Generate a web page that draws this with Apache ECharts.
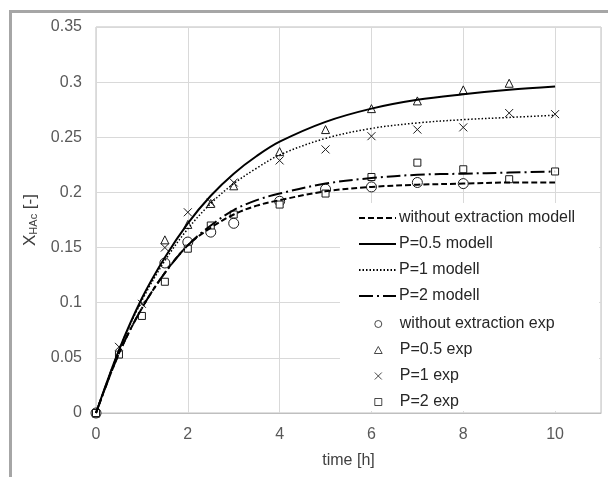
<!DOCTYPE html>
<html>
<head>
<meta charset="utf-8">
<script src="https://cdn.jsdelivr.net/npm/echarts@6/dist/echarts.min.js"></script>
<style>
  html, body { margin: 0; padding: 0; background: #fff; }
  #chart { width: 608px; height: 477px; }
</style>
</head>
<body>
<div id="chart"></div>
<script>
// Model curves (time in h, conversion X_HAc)
const modelTime = [0, 0.5, 1, 1.5, 2, 2.5, 3, 3.5, 4, 5, 6, 7, 8, 9, 10];
const modelNoExtraction = [0, 0.054, 0.095, 0.127, 0.152, 0.168, 0.180, 0.188, 0.193, 0.201, 0.205, 0.207, 0.208, 0.209, 0.209];
const modelP05 = [0, 0.057, 0.104, 0.141, 0.172, 0.197, 0.217, 0.233, 0.246, 0.264, 0.276, 0.284, 0.289, 0.293, 0.296];
const modelP1 = [0, 0.057, 0.102, 0.138, 0.167, 0.190, 0.208, 0.222, 0.234, 0.249, 0.258, 0.263, 0.266, 0.268, 0.270];
const modelP2 = [0, 0.054, 0.095, 0.127, 0.152, 0.170, 0.184, 0.193, 0.199, 0.208, 0.213, 0.216, 0.217, 0.218, 0.219];

// Experimental points
const expNoExtractionTime = [0, 1.5, 2, 2.5, 3, 4, 5, 6, 7, 8];
const expNoExtraction = [0, 0.136, 0.155, 0.164, 0.172, 0.192, 0.203, 0.205, 0.209, 0.208];
const expP05Time = [0, 1.5, 2, 2.5, 3, 4, 5, 6, 7, 8, 9];
const expP05 = [0, 0.157, 0.171, 0.190, 0.206, 0.237, 0.257, 0.276, 0.283, 0.293, 0.299];
const expP1Time = [0, 0.5, 1, 1.5, 2, 2.5, 3, 4, 5, 6, 7, 8, 9, 10];
const expP1 = [0, 0.060, 0.099, 0.150, 0.182, 0.191, 0.209, 0.229, 0.239, 0.251, 0.257, 0.259, 0.272, 0.271];
const expP2Time = [0, 0.5, 1, 1.5, 2, 2.5, 3, 4, 5, 6, 7, 8, 9, 10];
const expP2 = [0, 0.053, 0.088, 0.119, 0.149, 0.170, 0.180, 0.189, 0.199, 0.214, 0.227, 0.221, 0.212, 0.219];

const lineNames = ['without extraction modell', 'P=0.5 modell', 'P=1 modell', 'P=2 modell'];
const expNames = ['without extraction exp', 'P=0.5 exp', 'P=1 exp', 'P=2 exp'];

const zip = (xs, ys) => xs.map((x, i) => [x, ys[i]]);

// Marker shapes as paths so they keep their aspect in the legend
const circlePath = 'path://M10,5A5,5,0,1,1,0,5A5,5,0,1,1,10,5Z';
const trianglePath = 'path://M5,0L10,9L0,9Z';
const crossPath = 'path://M0,0L10,10M10,0L0,10';
const squarePath = 'path://M0,0L10,0L10,10L0,10Z';
const ink = '#1a1a1a';

function lineSeries(name, values, type, width) {
  return {
    name, type: 'line', data: zip(modelTime, values),
    smooth: 0.35, symbol: 'none', z: 3,
    lineStyle: { color: '#000', width: width, type: type },
    itemStyle: { color: '#000' }
  };
}
function scatterSeries(name, xs, ys, symbol, size, fill) {
  return {
    name, type: 'scatter', data: zip(xs, ys), symbol, symbolSize: size, z: 2,
    itemStyle: { color: fill, borderColor: ink, borderWidth: 1, opacity: 1 }
  };
}

const chart = echarts.init(document.getElementById('chart'));
chart.setOption({
  animation: false,
  textStyle: { fontFamily: 'Liberation Sans, Arial, sans-serif' },
  graphic: [
    { type: 'rect', z: 1, shape: { x: 340, y: 203, width: 259, height: 208 }, style: { fill: '#fff' } },
    { type: 'rect', z: 1, shape: { x: 9, y: 10, width: 599, height: 3 }, style: { fill: '#a6a6a6' } },
    { type: 'rect', z: 1, shape: { x: 9, y: 10, width: 3, height: 467 }, style: { fill: '#a6a6a6' } }
  ],
  grid: { left: 96, top: 27, right: 7, bottom: 64, show: true, borderColor: '#bfbfbf', borderWidth: 1 },
  xAxis: {
    type: 'value', min: 0, max: 11, interval: 2,
    name: 'time [h]', nameLocation: 'middle', nameGap: 40,
    nameTextStyle: { fontSize: 16, color: '#404040' },
    axisLine: { show: true, lineStyle: { color: '#bfbfbf' } },
    axisTick: { show: false },
    axisLabel: { fontSize: 16, color: '#595959', margin: 14, formatter: v => (v > 10.5 ? '' : String(v)) },
    splitLine: { lineStyle: { color: '#d9d9d9' } }
  },
  yAxis: {
    type: 'value', min: 0, max: 0.35, interval: 0.05,
    name: '{x|X}{sub|HAc}{x| [-]}', nameLocation: 'middle', nameGap: 56,
    nameTextStyle: {
      fontSize: 16, color: '#404040',
      rich: { x: { fontSize: 17, color: '#404040' }, sub: { fontSize: 11, color: '#404040', verticalAlign: 'bottom', padding: [8, 0, 0, 0] } }
    },
    axisLine: { show: false },
    axisTick: { show: false },
    axisLabel: { fontSize: 16, color: '#595959', margin: 14 },
    splitLine: { lineStyle: { color: '#d9d9d9' } }
  },
  legend: [
    {
      data: lineNames, orient: 'vertical', left: 358, top: 210,
      itemWidth: 37, itemHeight: 14, itemGap: 10, padding: 0,
      itemStyle: { opacity: 0, color: 'rgba(0,0,0,0)', borderWidth: 0 },
      textStyle: { fontSize: 16, color: '#262626', padding: [0, 0, 0, -2] }
    },
    {
      data: expNames, orient: 'vertical', left: 374, top: 316,
      itemWidth: 37, itemHeight: 7, itemGap: 10, padding: 0, symbolKeepAspect: true,
      itemStyle: { borderWidth: 0.8 },
      textStyle: { fontSize: 16, color: '#262626', padding: [0, 0, 0, -2] }
    }
  ],
  series: [
    lineSeries(lineNames[0], modelNoExtraction, [6, 3], 2),
    lineSeries(lineNames[1], modelP05, 'solid', 2),
    lineSeries(lineNames[2], modelP1, [1.5, 2], 1.5),
    lineSeries(lineNames[3], modelP2, [14, 4, 2, 4], 2),
    scatterSeries(expNames[0], expNoExtractionTime, expNoExtraction, circlePath, 10, '#fff'),
    scatterSeries(expNames[1], expP05Time, expP05, trianglePath, 8, '#fff'),
    scatterSeries(expNames[2], expP1Time, expP1, crossPath, 8, 'rgba(0,0,0,0)'),
    scatterSeries(expNames[3], expP2Time, expP2, squarePath, 7, '#fff')
  ]
});
</script>
</body>
</html>
